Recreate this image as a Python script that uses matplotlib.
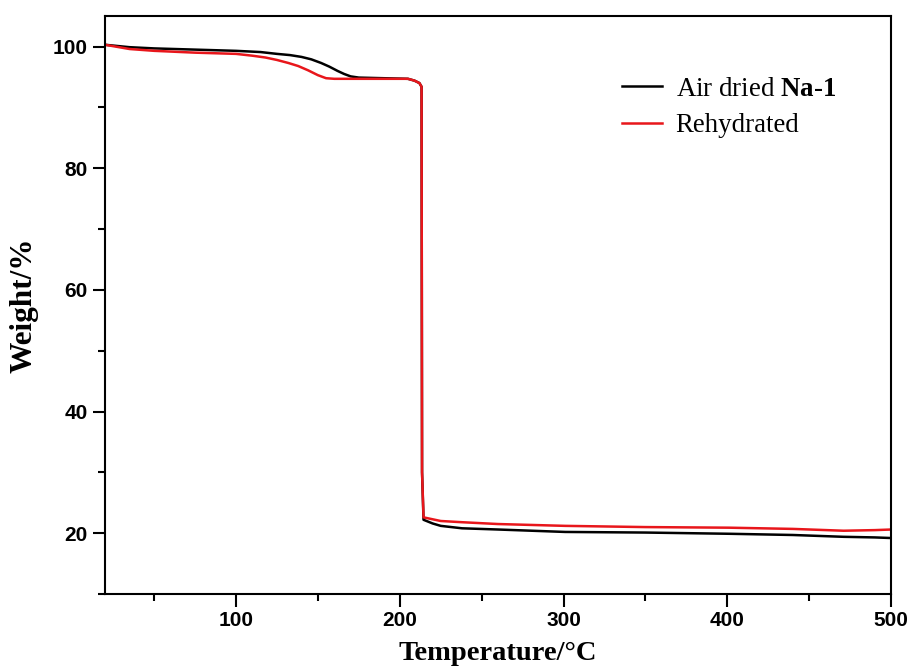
import matplotlib
matplotlib.use("Agg")
import matplotlib.pyplot as plt
from matplotlib.ticker import MultipleLocator

# TGA curves
temp_air = [20, 35, 50, 75, 100, 115, 125, 133, 140, 146, 152, 157, 162, 166, 170, 175, 190, 205, 209,
            212, 213.3, 213.6, 214.5, 220, 225, 238, 260, 301, 350, 401, 440, 471, 490, 500]
weight_air = [100.3, 99.9, 99.7, 99.5, 99.3, 99.1, 98.8, 98.6, 98.3, 97.9, 97.3, 96.7, 96.0, 95.5, 95.1,
              94.9, 94.8, 94.7, 94.4, 94.0, 93.4, 30.0, 22.2, 21.6, 21.2, 20.8, 20.6, 20.2, 20.1, 19.9,
              19.7, 19.4, 19.3, 19.2]

temp_reh = [20, 35, 50, 75, 100, 110, 118, 125, 132, 138, 144, 150, 155, 160, 180, 205, 209, 212, 213.3,
            213.6, 214.5, 225, 238, 260, 301, 350, 401, 440, 471, 490, 500]
weight_reh = [100.3, 99.6, 99.3, 99.0, 98.8, 98.5, 98.2, 97.8, 97.3, 96.8, 96.1, 95.3, 94.8, 94.7,
              94.7, 94.7, 94.4, 94.0, 93.4, 30.0, 22.6, 22.0, 21.8, 21.5, 21.2, 21.0, 20.9, 20.7, 20.4,
              20.5, 20.6]

plt.rcParams["mathtext.fontset"] = "custom"
plt.rcParams["mathtext.rm"] = "Liberation Serif"
plt.rcParams["mathtext.bf"] = "Liberation Serif:bold"

fig = plt.figure(figsize=(9.12, 6.68), dpi=100)
ax = fig.add_axes([0.1151, 0.1108, 0.862, 0.865])

ax.plot(temp_air, weight_air, color="black", lw=1.8, label="Air dried $\\mathbf{Na}$-$\\mathbf{1}$")
ax.plot(temp_reh, weight_reh, color="#e8161b", lw=1.8, label="Rehydrated")

ax.set_xlim(20, 500)
ax.set_ylim(10, 105)
ax.set_xticks([100, 200, 300, 400, 500])
ax.set_yticks([20, 40, 60, 80, 100])
ax.xaxis.set_minor_locator(MultipleLocator(50))
ax.yaxis.set_minor_locator(MultipleLocator(10))
ax.tick_params(which="major", direction="out", length=9, width=1.5)
ax.tick_params(which="minor", direction="out", length=5, width=1.5)
for lab in ax.get_xticklabels() + ax.get_yticklabels():
    lab.set_fontfamily("Liberation Sans")
    lab.set_fontweight("bold")
    lab.set_fontsize(15)
for sp in ax.spines.values():
    sp.set_linewidth(1.5)

ax.set_xlabel("Temperature/°C", fontfamily="Liberation Serif", fontweight="bold", fontsize=20.5, labelpad=8)
ax.set_ylabel("Weight/%", fontfamily="Liberation Serif", fontweight="bold", fontsize=22.5, labelpad=10)

leg = ax.legend(loc="upper left", bbox_to_anchor=(0.6265, 0.937), frameon=False,
                prop={"family": "Liberation Serif", "size": 19.4},
                handlelength=1.5, handletextpad=0.5, labelspacing=0.42)

fig.savefig("out.png", dpi=100)
